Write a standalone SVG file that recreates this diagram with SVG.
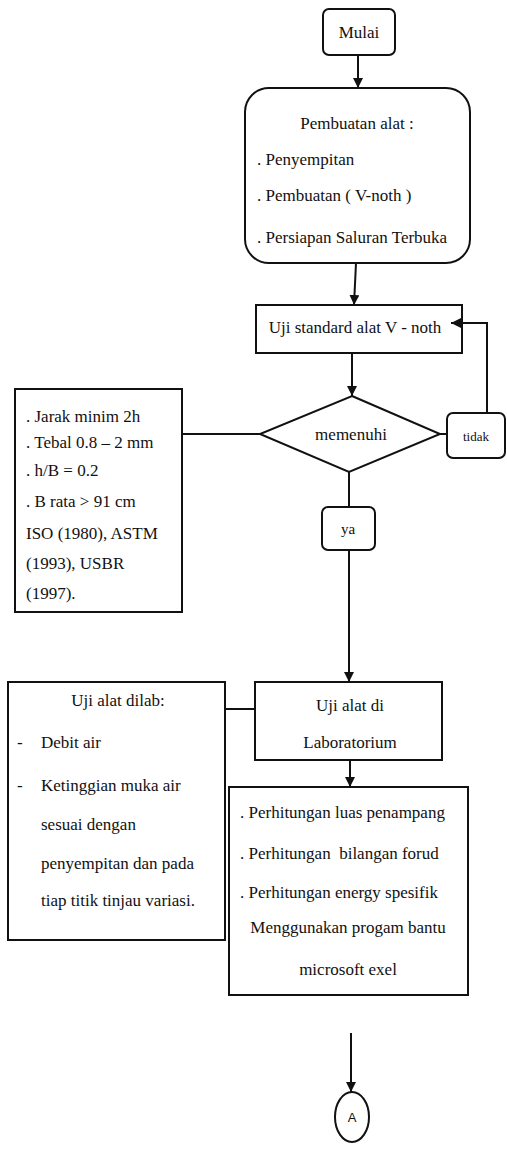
<svg xmlns="http://www.w3.org/2000/svg" width="507" height="1154" viewBox="0 0 507 1154">
<style>
  .box{fill:#fff;stroke:#111;stroke-width:2}
  .ln{fill:none;stroke:#111;stroke-width:2}
  .t{font-family:"Liberation Serif","Times New Roman",serif;font-size:17px;fill:#111}
  .c{text-anchor:middle}
</style>
<defs>
  <marker id="ah" viewBox="0 0 10 10" refX="10" refY="5" markerWidth="10" markerHeight="10" markerUnits="userSpaceOnUse" orient="auto">
    <path d="M0,0 L10,5 L0,10 z" fill="#111"/>
  </marker>
</defs>
<rect width="507" height="1154" fill="#fff"/>
<g id="mulai">
  <rect class="box" x="323" y="9" width="72" height="46" rx="6"/>
  <text class="t c" x="359" y="38">Mulai</text>
</g>
<g id="pembuatan">
  <rect class="box" x="245" y="88" width="225" height="175" rx="24"/>
  <text class="t c" x="357" y="129">Pembuatan alat :</text>
  <text class="t" x="257" y="165">. Penyempitan</text>
  <text class="t" x="257" y="201">. Pembuatan ( V-noth )</text>
  <text class="t" x="257" y="243">. Persiapan Saluran Terbuka</text>
</g>
<g id="uji-standard">
  <rect class="box" x="256" y="305" width="206" height="48"/>
  <text class="t c" x="355" y="333">Uji standard alat V - noth</text>
</g>
<g id="memenuhi">
  <polygon class="box" points="352,396 440,434 349,472 260,434"/>
  <text class="t c" x="351" y="440">memenuhi</text>
</g>
<g id="tidak">
  <rect class="box" x="447" y="413" width="58" height="45" rx="6"/>
  <text class="t c" x="476" y="441" style="font-size:13px">tidak</text>
</g>
<g id="syarat">
  <rect class="box" x="15" y="389" width="167" height="223"/>
  <text class="t" x="26" y="422">. Jarak minim 2h</text>
  <text class="t" x="26" y="448">. Tebal 0.8 – 2 mm</text>
  <text class="t" x="26" y="476">. h/B = 0.2</text>
  <text class="t" x="26" y="507">. B rata &gt; 91 cm</text>
  <text class="t" x="26" y="539">ISO (1980), ASTM</text>
  <text class="t" x="26" y="569">(1993), USBR</text>
  <text class="t" x="26" y="599">(1997).</text>
</g>
<g id="ya">
  <rect class="box" x="322" y="507" width="53" height="43" rx="6"/>
  <text class="t c" x="348" y="534" style="font-size:15px">ya</text>
</g>
<g id="uji-lab">
  <rect class="box" x="255" y="682" width="187" height="78"/>
  <text class="t c" x="350" y="711">Uji alat di</text>
  <text class="t c" x="350" y="748">Laboratorium</text>
</g>
<g id="uji-dilab">
  <rect class="box" x="8" y="682" width="217" height="258"/>
  <text class="t c" x="118" y="706">Uji alat dilab:</text>
  <text class="t" x="17" y="748">-</text>
  <text class="t" x="41" y="748">Debit air</text>
  <text class="t" x="17" y="791">-</text>
  <text class="t" x="41" y="791">Ketinggian muka air</text>
  <text class="t" x="41" y="830">sesuai dengan</text>
  <text class="t" x="41" y="869">penyempitan dan pada</text>
  <text class="t" x="41" y="906">tiap titik tinjau variasi.</text>
</g>
<g id="perhitungan">
  <rect class="box" x="229" y="787" width="239" height="208"/>
  <text class="t" x="240" y="818">. Perhitungan luas penampang</text>
  <text class="t" x="240" y="859" xml:space="preserve">. Perhitungan  bilangan forud</text>
  <text class="t" x="240" y="898">. Perhitungan energy spesifik</text>
  <text class="t c" x="348" y="933">Menggunakan progam bantu</text>
  <text class="t c" x="348" y="975">microsoft exel</text>
</g>
<g id="konektor-a">
  <ellipse class="box" cx="352" cy="1117" rx="17" ry="25"/>
  <text class="c" x="352" y="1122" style="font-family:'Liberation Sans',Arial,sans-serif;font-size:13px;fill:#111">A</text>
</g>
<g id="connectors">
  <line class="ln" x1="358" y1="55" x2="358" y2="88" marker-end="url(#ah)"/>
  <line class="ln" x1="356" y1="263" x2="354" y2="305" marker-end="url(#ah)"/>
  <line class="ln" x1="352" y1="353" x2="352" y2="396" marker-end="url(#ah)"/>
  <line class="ln" x1="440" y1="434" x2="447" y2="434"/>
  <polyline class="ln" points="487,413 487,323 451,323" marker-end="url(#ah)"/>
  <line class="ln" x1="182" y1="434" x2="260" y2="434"/>
  <line class="ln" x1="349" y1="472" x2="349" y2="507"/>
  <line class="ln" x1="349" y1="550" x2="349" y2="682" marker-end="url(#ah)"/>
  <line class="ln" x1="225" y1="709" x2="255" y2="709"/>
  <line class="ln" x1="350" y1="760" x2="350" y2="787" marker-end="url(#ah)"/>
  <line class="ln" x1="351" y1="1033" x2="351" y2="1092" marker-end="url(#ah)"/>
</g>
</svg>
